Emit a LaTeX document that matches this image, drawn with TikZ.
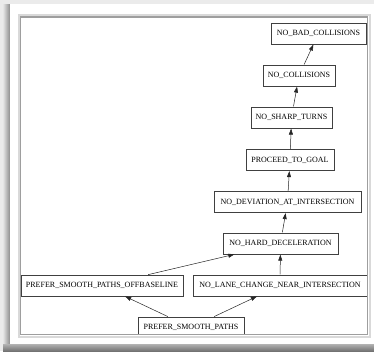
\documentclass[tikz,border=0pt]{standalone}
\usepackage{fontspec}
\setmainfont{Liberation Serif}
\usetikzlibrary{arrows.meta}
\begin{document}
\begin{tikzpicture}[x=1pt,y=-1pt,
  goal/.style={draw=black!75, line width=0.6pt, fill=white, rectangle,
    minimum height=21pt, inner sep=0pt, font=\fontsize{8}{9}\selectfont},
  dep/.style={draw=black!85, line width=0.5pt,
    -{Triangle[length=6pt,width=4pt]}, shorten >=0.3pt, shorten <=0.3pt}]
\useasboundingbox (0,0) rectangle (374,351);
% window background and panel with its shadow
\fill[black!8] (0,0) rectangle (374,351);
\shade[left color=black!10, right color=black!45] (3,4) rectangle (10,344);
\shade[top color=black!30, bottom color=black!55] (3,344) rectangle (374,351);
\fill[white] (10,4) rectangle (374,344);
% framed drawing area
\draw[black!15, line width=2pt] (19,15) rectangle (370,337);
\draw[black!38, line width=1.4pt] (20.5,17) rectangle (367.5,334.5);
\begin{scope}
\clip (21.2,17.7) rectangle (366.8,333.8);
\node[goal, minimum width=95pt]  (bad)    at (318.5,33.5) {NO\_BAD\_COLLISIONS};
\node[goal, minimum width=72pt]  (coll)   at (299,75.5)   {NO\_COLLISIONS};
\node[goal, minimum width=81pt]  (sharp)  at (291.5,117.5) {NO\_SHARP\_TURNS};
\node[goal, minimum width=88pt]  (goal)   at (290,160)    {PROCEED\_TO\_GOAL};
\node[goal, minimum width=147pt] (dev)    at (287.5,202)  {NO\_DEVIATION\_AT\_INTERSECTION};
\node[goal, minimum width=115pt] (hard)   at (280.5,243.5) {NO\_HARD\_DECELERATION};
\node[goal, minimum width=162pt] (off)    at (102,285.5)  {PREFER\_SMOOTH\_PATHS\_OFFBASELINE};
\node[goal, minimum width=174pt] (lane)   at (280,285.5)  {NO\_LANE\_CHANGE\_NEAR\_INTERSECTION};
\node[goal, minimum width=106pt] (smooth) at (191,327.5)  {PREFER\_SMOOTH\_PATHS};
\draw[dep] (smooth) -- (off);
\draw[dep] (smooth) -- (lane);
\draw[dep] (off) -- (hard);
\draw[dep] (lane) -- (hard);
\draw[dep] (hard) -- (dev);
\draw[dep] (dev) -- (goal);
\draw[dep] (goal) -- (sharp);
\draw[dep] (sharp) -- (coll);
\draw[dep] (coll) -- (bad);
\end{scope}
\end{tikzpicture}
\end{document}
